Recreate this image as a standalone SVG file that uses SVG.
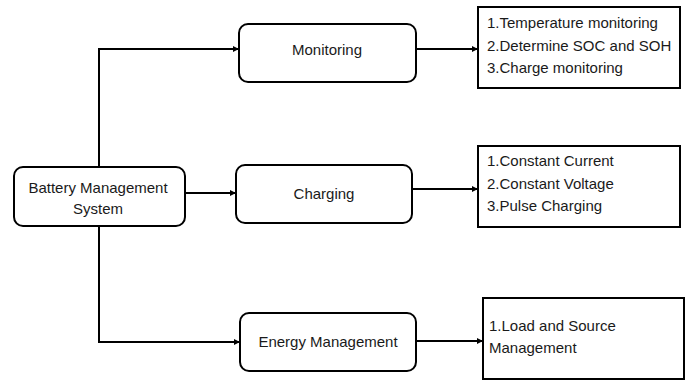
<svg xmlns="http://www.w3.org/2000/svg" width="690" height="380" viewBox="0 0 690 380">
<style>
.n{fill:#fff;stroke:#000;stroke-width:2}
.t{font-family:"Liberation Sans",Arial,sans-serif;font-size:15px;fill:#1a1a1a}
.c{text-anchor:middle}
.e{fill:none;stroke:#000;stroke-width:2}
</style>
<defs>
<marker id="a" markerWidth="6" markerHeight="6" refX="5" refY="3" orient="auto" markerUnits="userSpaceOnUse">
<path d="M0,0 L6,3 L0,6 Z" fill="#000"/>
</marker>
</defs>
<rect width="690" height="380" fill="#fff"/>
<g id="edges">
<path class="e" d="M99,167 V49 H238" marker-end="url(#a)"/>
<path class="e" d="M185,193 H235" marker-end="url(#a)"/>
<path class="e" d="M99,226 V342 H239" marker-end="url(#a)"/>
<path class="e" d="M416,49 H477" marker-end="url(#a)"/>
<path class="e" d="M412,189 H477" marker-end="url(#a)"/>
<path class="e" d="M416,341 H482" marker-end="url(#a)"/>
</g>
<g id="bms">
<rect class="n" x="14" y="167" width="171" height="59" rx="9"/>
<text class="t c" x="98" y="193">Battery Management</text>
<text class="t c" x="98" y="214">System</text>
</g>
<g id="monitoring">
<rect class="n" x="239" y="24" width="177" height="58" rx="9"/>
<text class="t c" x="327" y="55">Monitoring</text>
</g>
<g id="charging">
<rect class="n" x="236" y="165" width="176" height="58" rx="9"/>
<text class="t c" x="324" y="199">Charging</text>
</g>
<g id="energy">
<rect class="n" x="240" y="313" width="176" height="58" rx="9"/>
<text class="t c" x="328" y="347">Energy Management</text>
</g>
<g id="monitoring-list">
<rect class="n" x="478" y="7" width="202" height="81"/>
<text class="t" x="487" y="28">1.Temperature monitoring</text>
<text class="t" x="487" y="51">2.Determine SOC and SOH</text>
<text class="t" x="487" y="73">3.Charge monitoring</text>
</g>
<g id="charging-list">
<rect class="n" x="478" y="146" width="202" height="81"/>
<text class="t" x="487" y="166">1.Constant Current</text>
<text class="t" x="487" y="189">2.Constant Voltage</text>
<text class="t" x="487" y="211">3.Pulse Charging</text>
</g>
<g id="energy-list">
<rect class="n" x="483" y="298" width="201" height="81"/>
<text class="t" x="489" y="331">1.Load and Source</text>
<text class="t" x="489" y="353">Management</text>
</g>
</svg>
